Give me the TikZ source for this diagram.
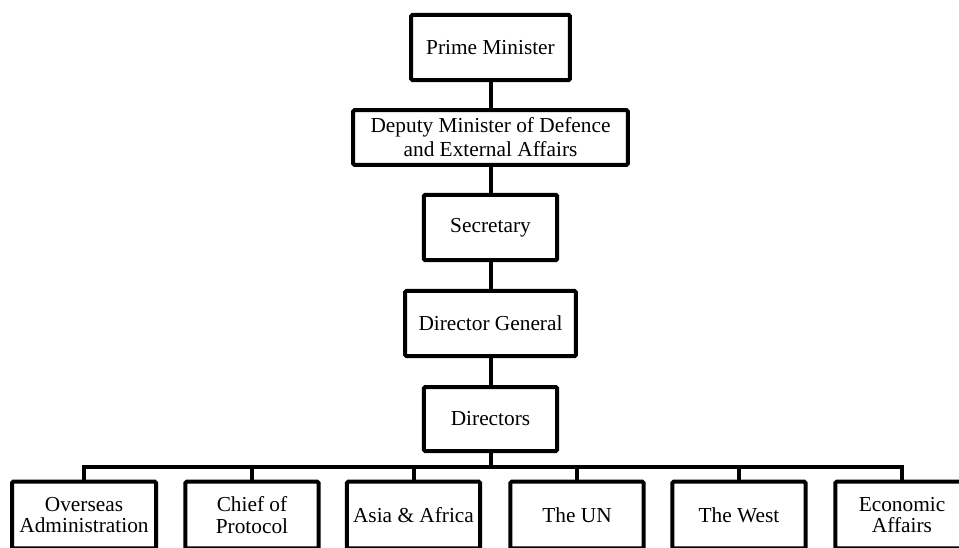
\documentclass[tikz,border=0pt]{standalone}
\usepackage{fontspec}
\setmainfont{Liberation Serif}
\usetikzlibrary{calc,positioning}

\begin{document}
\begin{tikzpicture}
  [
    x=0.75pt, y=-0.75pt,
    office/.style={
      draw, line width=3pt,
      rectangle, rounded corners=1pt,
      align=center, inner sep=2pt,
      minimum height=49pt,
      font=\fontsize{16}{18}\selectfont
    },
    unit/.style={
      draw, line width=3pt,
      rectangle, rounded corners=1pt,
      align=center, inner sep=2pt,
      minimum width=100pt, minimum height=50pt,
      font=\fontsize{16}{16}\selectfont
    },
    line/.style={
      line width=3pt
    }
  ]
\useasboundingbox (0,0) rectangle (959,547);
\clip (0,0) rectangle (959,547);

% Chain of command
\node (pm)   [office, minimum width=119pt]   at (490.5,47.5)  {Prime Minister};
\node (dep)  [office, minimum width=206pt, minimum height=41pt]
                                             at (490.5,137.5) {Deputy Minister of Defence\\and External Affairs};
\node (sec)  [office, minimum width=100pt]   at (490.5,227.5) {Secretary};
\node (dg)   [office, minimum width=128pt]   at (490.5,323.5) {Director General};
\node (dir)  [office, minimum width=100pt, minimum height=48pt]
                                             at (490.5,419)   {Directors};

\draw [line] (pm) -- (dep);
\draw [line] (dep) -- (sec);
\draw [line] (sec) -- (dg);
\draw [line] (dg) -- (dir);

% Directorates
\node (over)  [unit, minimum width=108pt] at (84,515)    {Overseas\\Administration};
\node (chief) [unit]                      at (252,515)   {Chief of\\Protocol};
\node (asia)  [unit]                      at (413.5,515) {Asia \& Africa};
\node (un)    [unit]                      at (577,515)   {The UN};
\node (west)  [unit]                      at (739,515)   {The West};
\node (econ)  [unit]                      at (902,515)   {Economic\\Affairs};

\coordinate (bus) at (490.5,467);
\draw [line] (dir) -- (bus);
\draw [line] (over.north) |- (bus) -| (econ.north);
\foreach \n in {chief,asia,un,west}
  \draw [line] (\n.north) -- (\n.north |- bus);

\end{tikzpicture}
\end{document}
